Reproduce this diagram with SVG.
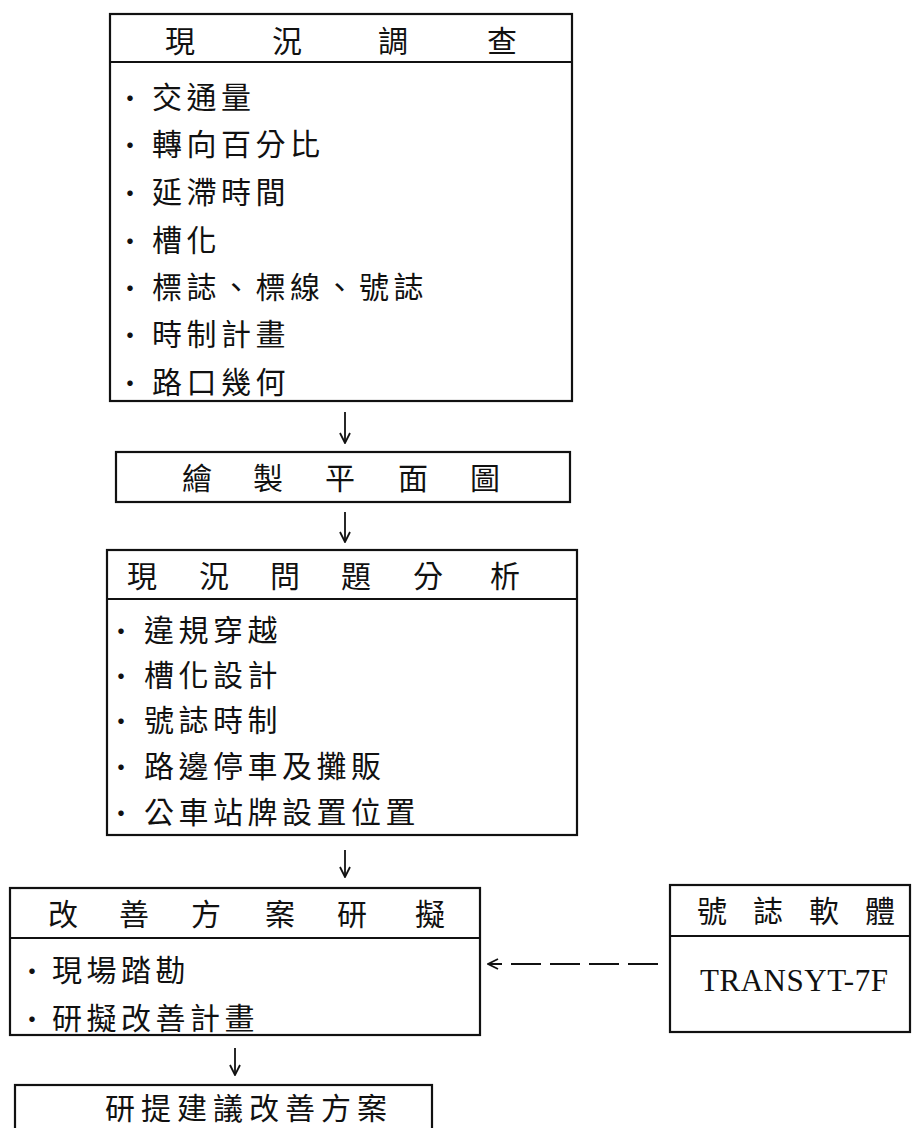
<svg xmlns="http://www.w3.org/2000/svg" width="913" height="1128" viewBox="0 0 913 1128">
<defs>
<style>
.box{fill:none;stroke:#111;stroke-width:2.2}
.div{stroke:#111;stroke-width:2.2}
.t{font-family:"Noto Sans CJK TC","Noto Sans CJK SC",sans-serif;font-size:30px;fill:#111;dominant-baseline:central}
.i{letter-spacing:4.5px}
.b{font-family:"Noto Sans CJK TC",sans-serif;font-size:26px;fill:#111;dominant-baseline:central;text-anchor:middle}
.h{text-anchor:middle}
.m{font-family:"Liberation Serif",serif;font-size:31px;fill:#111;dominant-baseline:central}
.c{stroke:#111;stroke-width:1.8;fill:none}
.d{stroke-dasharray:30 9}
</style>
<marker id="ah" viewBox="0 0 12 12" refX="11" refY="6" markerWidth="12" markerHeight="12" markerUnits="userSpaceOnUse" orient="auto">
<path d="M1,1 L11,6 L1,11" fill="none" stroke="#111" stroke-width="1.8"/>
</marker>
</defs>
<rect width="913" height="1128" fill="#fff"/>
<g id="n1">
<rect class="box" x="110" y="14" width="462" height="387"/>
<line class="div" x1="110" y1="62" x2="572" y2="62"/>
<text class="t h" x="180" y="39">現</text>
<text class="t h" x="287" y="39">況</text>
<text class="t h" x="393" y="39">調</text>
<text class="t h" x="502" y="39">查</text>
<text class="b" x="130" y="96">·</text><text class="t i" x="152" y="95">交通量</text>
<text class="b" x="130" y="143">·</text><text class="t i" x="152" y="142">轉向百分比</text>
<text class="b" x="130" y="191">·</text><text class="t i" x="152" y="190">延滯時間</text>
<text class="b" x="130" y="239">·</text><text class="t i" x="152" y="238">槽化</text>
<text class="b" x="130" y="286">·</text><text class="t i" x="152" y="285">標誌、標線、號誌</text>
<text class="b" x="130" y="333">·</text><text class="t i" x="152" y="332">時制計畫</text>
<text class="b" x="130" y="381">·</text><text class="t i" x="152" y="380">路口幾何</text>
</g>
<g id="n2">
<rect class="box" x="116" y="452" width="454" height="50"/>
<text class="t h" x="197" y="476">繪</text>
<text class="t h" x="268" y="476">製</text>
<text class="t h" x="340" y="476">平</text>
<text class="t h" x="413" y="476">面</text>
<text class="t h" x="485" y="476">圖</text>
</g>
<g id="n3">
<rect class="box" x="107" y="550" width="470" height="285"/>
<line class="div" x1="107" y1="599" x2="577" y2="599"/>
<text class="t h" x="142" y="574">現</text>
<text class="t h" x="214" y="574">況</text>
<text class="t h" x="285" y="574">問</text>
<text class="t h" x="356" y="574">題</text>
<text class="t h" x="428" y="574">分</text>
<text class="t h" x="505" y="574">析</text>
<text class="b" x="121" y="629">·</text><text class="t i" x="144" y="628">違規穿越</text>
<text class="b" x="121" y="674">·</text><text class="t i" x="144" y="673">槽化設計</text>
<text class="b" x="121" y="719">·</text><text class="t i" x="144" y="718">號誌時制</text>
<text class="b" x="121" y="765">·</text><text class="t i" x="144" y="764">路邊停車及攤販</text>
<text class="b" x="121" y="811">·</text><text class="t i" x="144" y="810">公車站牌設置位置</text>
</g>
<g id="n4">
<rect class="box" x="10" y="888" width="470" height="147"/>
<line class="div" x1="10" y1="938" x2="480" y2="938"/>
<text class="t h" x="63" y="912">改</text>
<text class="t h" x="134" y="912">善</text>
<text class="t h" x="206" y="912">方</text>
<text class="t h" x="280" y="912">案</text>
<text class="t h" x="352" y="912">研</text>
<text class="t h" x="430" y="912">擬</text>
<text class="b" x="32" y="969">·</text><text class="t i" x="52" y="968">現場踏勘</text>
<text class="b" x="32" y="1017">·</text><text class="t i" x="52" y="1016">研擬改善計畫</text>
</g>
<g id="n5">
<rect class="box" x="670" y="885" width="240" height="147"/>
<line class="div" x1="670" y1="936" x2="910" y2="936"/>
<text class="t h" x="712" y="909">號</text>
<text class="t h" x="768" y="909">誌</text>
<text class="t h" x="824" y="909">軟</text>
<text class="t h" x="880" y="909">體</text>
<text class="m" x="700" y="980" textLength="188" lengthAdjust="spacing">TRANSYT-7F</text>
</g>
<g id="n6">
<rect class="box" x="15" y="1085" width="417" height="60"/>
<text class="t" x="105" y="1106" textLength="282" lengthAdjust="spacing">研提建議改善方案</text>
</g>
<g id="connectors">
<line class="c" x1="345" y1="412" x2="345" y2="443" marker-end="url(#ah)"/>
<line class="c" x1="345" y1="512" x2="345" y2="542" marker-end="url(#ah)"/>
<line class="c" x1="345" y1="850" x2="345" y2="877" marker-end="url(#ah)"/>
<line class="c" x1="235" y1="1048" x2="235" y2="1075" marker-end="url(#ah)"/>
<line class="c d" x1="658" y1="964" x2="488" y2="964" marker-end="url(#ah)"/>
</g>
</svg>
